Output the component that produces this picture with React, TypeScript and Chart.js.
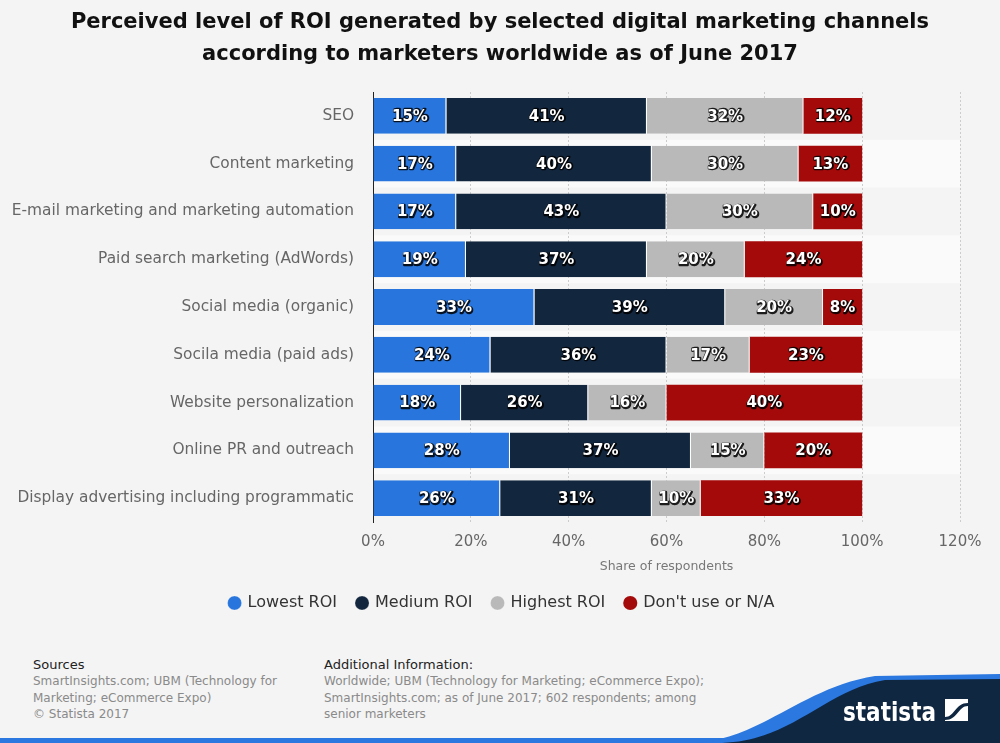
import React, { useEffect, useRef } from "react";
import { Chart, registerables } from "chart.js";

Chart.register(...registerables);

const categories = [
  "SEO",
  "Content marketing",
  "E-mail marketing and marketing automation",
  "Paid search marketing (AdWords)",
  "Social media (organic)",
  "Socila media (paid ads)",
  "Website personalization",
  "Online PR and outreach",
  "Display advertising including programmatic",
];
const lowestROI = [15, 17, 17, 19, 33, 24, 18, 28, 26];
const mediumROI = [41, 40, 43, 37, 39, 36, 26, 37, 31];
const highestROI = [32, 30, 30, 20, 20, 17, 16, 15, 10];
const dontUse = [12, 13, 10, 24, 8, 23, 40, 20, 33];
const seriesNames = ["Lowest ROI", "Medium ROI", "Highest ROI", "Don't use or N/A"];
const seriesColors = ["#2876dd", "#12263e", "#b9b9b9", "#a50a0b"];
const xTicks = [0, 20, 40, 60, 80, 100, 120];

const FONT = "'DejaVu Sans', Verdana, sans-serif";

const bandsPlugin = {
  id: "bands",
  beforeDraw(chart: any) {
    const { ctx, chartArea, scales } = chart;
    const y = scales.y;
    const step = Math.abs(y.getPixelForValue(1) - y.getPixelForValue(0));
    ctx.save();
    ctx.fillStyle = "#fafafa";
    categories.forEach((_, i) => {
      if (i % 2 === 1) {
        const c = y.getPixelForValue(i);
        ctx.fillRect(chartArea.left, c - step / 2, chartArea.right - chartArea.left, step);
      }
    });
    ctx.restore();
    // centre the legend on the full page width
    if (chart.legend) {
      chart.legend.left = 22;
      chart.legend.right = chart.width - 18;
    }
  },
};

const labelsPlugin = {
  id: "barLabels",
  afterDatasetsDraw(chart: any) {
    const { ctx } = chart;
    ctx.save();
    ctx.font = `bold 15px ${FONT}`;
    ctx.textAlign = "center";
    ctx.textBaseline = "middle";
    ctx.lineJoin = "round";
    chart.data.datasets.forEach((ds: any, di: number) => {
      const meta = chart.getDatasetMeta(di);
      meta.data.forEach((el: any, i: number) => {
        const v = ds.data[i];
        const cx = (el.x + el.base) / 2;
        const cy = el.y + 1;
        const t = `${v}%`;
        ctx.strokeStyle = "rgba(0,0,0,0.85)";
        ctx.lineWidth = 2.5;
        ctx.strokeText(t, cx + 0.7, cy + 0.7);
        ctx.fillStyle = "#ffffff";
        ctx.fillText(t, cx, cy);
      });
    });
    ctx.restore();
  },
};

function ChartBox() {
  const ref = useRef<HTMLCanvasElement | null>(null);
  useEffect(() => {
    if (!ref.current) return;
    const datasets = [lowestROI, mediumROI, highestROI, dontUse].map((d, i) => ({
      label: seriesNames[i],
      data: d,
      backgroundColor: seriesColors[i],
      borderColor: "#ffffff",
      borderWidth: { top: 0, bottom: 0, left: 0, right: i < 3 ? 1 : 0 },
      borderSkipped: false,
      barPercentage: 0.75,
      categoryPercentage: 1,
    }));
    const chart = new Chart(ref.current, {
      type: "bar",
      data: { labels: categories, datasets },
      plugins: [bandsPlugin, labelsPlugin],
      options: {
        indexAxis: "y",
        animation: false,
        responsive: false,
        maintainAspectRatio: false,
        layout: { padding: { top: 92, right: 40, left: 0, bottom: 9 } },
        plugins: {
          legend: {
            position: "bottom",
            labels: {
              usePointStyle: true,
              pointStyle: "circle",
              boxWidth: 10,
              boxHeight: 10,
              padding: 20,
              color: "#333333",
              font: { family: FONT, size: 16 },
            },
          },
          title: { display: false },
          tooltip: { enabled: false },
        },
        scales: {
          x: {
            stacked: true,
            min: 0,
            max: 120,
            afterBuildTicks(scale: any) {
              scale.ticks = xTicks.map((v) => ({ value: v }));
            },
            afterFit(scale: any) {
              scale.height = 53;
            },
            ticks: {
              stepSize: 20,
              padding: 11,
              color: "#666666",
              font: { family: FONT, size: 15 },
              callback: (v: any) => `${v}%`,
            },
            grid: {
              color: "#cccccc",
              lineWidth: 1,
              drawTicks: false,
            },
            border: { display: false, dash: [2, 2] },
            title: {
              display: true,
              text: "Share of respondents",
              color: "#777777",
              font: { family: FONT, size: 12.5 },
              padding: { top: 0, bottom: 1 },
            },
          },
          y: {
            stacked: true,
            afterFit(scale: any) {
              scale.width = 373;
            },
            ticks: {
              padding: 19,
              color: "#666666",
              font: { family: FONT, size: 15.4 },
            },
            grid: { display: false, drawTicks: false },
            border: { display: true, color: "#222222", width: 1 },
          },
        },
      } as any,
    });
    return () => chart.destroy();
  }, []);
  return (
    <canvas
      ref={ref}
      width={1000}
      height={630}
      style={{ position: "absolute", left: 0, top: 0, width: 1000, height: 630 }}
    />
  );
}

export default function App() {
  useEffect(() => {
    document.body.style.margin = "0";
  }, []);
  const footText: React.CSSProperties = {
    fontFamily: FONT,
    fontSize: 12,
    lineHeight: "16.5px",
    color: "#8a8a8a",
  };
  const footHead: React.CSSProperties = {
    fontFamily: FONT,
    fontSize: 13,
    lineHeight: "17px",
    color: "#222222",
  };
  return (
    <div
      style={{
        position: "absolute",
        left: 0,
        top: 0,
        width: 1000,
        height: 743,
        background: "#f4f4f4",
        overflow: "hidden",
      }}
    >
      <ChartBox />
      <div
        style={{
          position: "absolute",
          left: 0,
          top: 5,
          width: 1000,
          textAlign: "center",
          fontFamily: FONT,
          fontWeight: "bold",
          fontSize: 21,
          lineHeight: "32px",
          color: "#111111",
        }}
      >
        Perceived level of ROI generated by selected digital marketing channels
        <br />
        according to marketers worldwide as of June 2017
      </div>
      <div style={{ position: "absolute", left: 33, top: 656, width: 270 }}>
        <div style={footHead}>Sources</div>
        <div style={footText}>
          SmartInsights.com; UBM (Technology for
          <br />
          Marketing; eCommerce Expo)
          <br />© Statista 2017
        </div>
      </div>
      <div style={{ position: "absolute", left: 324, top: 656, width: 420 }}>
        <div style={footHead}>Additional Information:</div>
        <div style={footText}>
          Worldwide; UBM (Technology for Marketing; eCommerce Expo);
          <br />
          SmartInsights.com; as of June 2017; 602 respondents; among
          <br />
          senior marketers
        </div>
      </div>
      <svg
        width={1000}
        height={743}
        style={{ position: "absolute", left: 0, top: 0, pointerEvents: "none" }}
      >
        <rect x={0} y={738} width={1000} height={5} fill="#2b78e0" />
        <path d="M 690 743 C 760 741, 800 688, 875 676 L 1000 674 L 1000 743 Z" fill="#2b78e0" />
        <path d="M 722 743 C 792 741, 825 690, 885 680 L 1000 679 L 1000 743 Z" fill="#0f2740" />
        <text
          x={843}
          y={721}
          fill="#ffffff"
          fontFamily={FONT}
          fontWeight="bold"
          fontSize={26}
          textLength={93}
          lengthAdjust="spacingAndGlyphs"
        >
          statista
        </text>
        <rect x={945} y={699} width={23} height={22} fill="#ffffff" />
        <path d="M 945 717 C 955 717, 955 703, 968 703 L 968 706 C 958 706, 958 720, 945 720 Z" fill="#0f2740" />
      </svg>
    </div>
  );
}
